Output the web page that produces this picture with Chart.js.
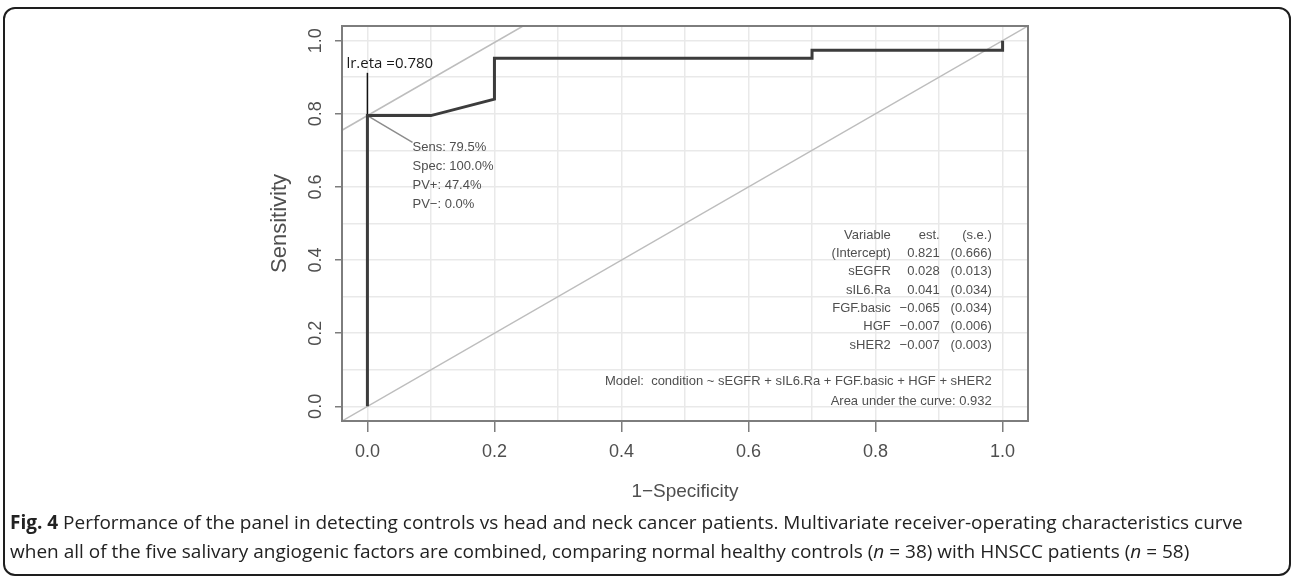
<!DOCTYPE html>
<html>
<head>
<meta charset="utf-8">
<script src="https://cdn.jsdelivr.net/npm/chart.js@4/dist/chart.umd.min.js"></script>
<style>
  html, body { margin: 0; padding: 0; background: #fff; }
  body { width: 1293px; height: 578px; position: relative; overflow: hidden; }
  #frame { position: absolute; left: 3px; top: 7px; width: 1288px; height: 569px; box-sizing: border-box;
           border: 2px solid #1e1e1e; border-radius: 12px; }
  #roc { position: absolute; left: 0; top: 0; }
  #caption { position: absolute; left: 10px; top: 508px; font: 19px "Open Sans", sans-serif; line-height: 29px;
             color: #222; white-space: nowrap; }
</style>
</head>
<body>
<div id="frame"></div>
<canvas id="roc" width="1293" height="510"></canvas>
<div id="caption"><b>Fig. 4</b> Performance of the panel in detecting controls vs head and neck cancer patients. Multivariate receiver-operating characteristics curve<br>when all of the five salivary angiogenic factors are combined, comparing normal healthy controls (<i>n</i> = 38) with HNSCC patients (<i>n</i> = 58)</div>
<script>
// ROC curve
const rocFpr = [0, 0, 0.1, 0.2, 0.2, 0.7, 0.7, 1.0, 1.0]
const rocSens = [0, 0.795, 0.795, 0.84, 0.952, 0.952, 0.974, 0.974, 1.0]

const axisRange = [-0.04, 1.04]
const gridSteps = [0, 0.1, 0.2, 0.3, 0.4, 0.5, 0.6, 0.7, 0.8, 0.9, 1.0]
const tickValues = [0, 0.2, 0.4, 0.6, 0.8, 1.0]
const tickLabels = ["0.0", "0.2", "0.4", "0.6", "0.8", "1.0"]

// optimal cut point
const cutFpr = 0
const cutSens = 0.795
const lrEta = 0.78
const cutStats = ["Sens: 79.5%", "Spec: 100.0%", "PV+: 47.4%", "PV\u2212: 0.0%"]

// logistic model table
const varNames = ["(Intercept)", "sEGFR", "sIL6.Ra", "FGF.basic", "HGF", "sHER2"]
const estimates = [0.821, 0.028, 0.041, -0.065, -0.007, -0.007]
const stdErrors = [0.666, 0.013, 0.034, 0.034, 0.006, 0.003]
const modelText = "Model:  condition ~ sEGFR + sIL6.Ra + FGF.basic + HGF + sHER2"
const auc = 0.932

const fmt = (v) => v.toFixed(3).replace("-", "\u2212")
const pts = (xs, ys) => xs.map((x, i) => ({ x: x, y: ys[i] }))

const tangentX = [axisRange[0], axisRange[1] - cutSens]

const labelFor = (value) => {
  const i = tickValues.findIndex((t) => Math.abs(t - value) < 1e-6)
  return i < 0 ? "" : tickLabels[i]
}
const tickCol = (c) => (c.tick && labelFor(c.tick.value) !== "" ? "#7d7d7d" : "rgba(0,0,0,0)")

const textCol = "#4f4f4f"
const rFont = "Liberation Sans"

// box, stats text and model table
const rocNotes = {
  id: "rocNotes",
  afterDatasetsDraw(chart) {
    const { ctx, chartArea: a, scales } = chart
    const px = (v) => scales.x.getPixelForValue(v)
    const py = (v) => scales.y.getPixelForValue(v)
    ctx.save()
    ctx.strokeStyle = "#7d7d7d"
    ctx.lineWidth = 2
    ctx.strokeRect(a.left, a.top, a.right - a.left, a.bottom - a.top)

    ctx.textBaseline = "middle"
    ctx.fillStyle = "#1a1a1a"
    ctx.font = '15px "Open Sans"'
    ctx.textAlign = "left"
    ctx.fillText("lr.eta =" + lrEta.toFixed(3), px(-0.033), py(0.938))

    ctx.fillStyle = textCol
    ctx.font = "13px " + rFont
    cutStats.forEach((s, i) => ctx.fillText(s, px(0.071), py(0.707) + i * 19))

    ctx.textAlign = "right"
    const rowY = (i) => py(0.468) + i * 18.3
    ctx.fillText("Variable", px(0.824), rowY(0))
    ctx.fillText("est.", px(0.901), rowY(0))
    ctx.fillText("(s.e.)", px(0.983), rowY(0))
    varNames.forEach((n, i) => {
      ctx.fillText(n, px(0.824), rowY(i + 1))
      ctx.fillText(fmt(estimates[i]), px(0.901), rowY(i + 1))
      ctx.fillText("(" + fmt(stdErrors[i]) + ")", px(0.983), rowY(i + 1))
    })
    ctx.fillText(modelText, px(0.983), py(0.068))
    ctx.fillText("Area under the curve: " + auc.toFixed(3), px(0.983), py(0.014))
    ctx.restore()
  },
}

const axis = (title, titleSize, tickLen, extra) => ({
  type: "linear",
  min: axisRange[0],
  max: axisRange[1],
  afterBuildTicks: (s) => {
    s.ticks = gridSteps.map((v) => ({ value: v }))
  },
  ticks: Object.assign(
    { callback: labelFor, autoSkip: false, color: textCol, font: { size: 18, family: rFont } },
    extra
  ),
  grid: { color: "#e9e9e9", lineWidth: 1.5, tickLength: tickLen, tickColor: tickCol, tickWidth: 1.5 },
  border: { display: false },
  title: { display: true, text: title, color: textCol, font: { size: titleSize, family: rFont }, padding: 4 },
})

const line = (data, color, width) => ({
  data: data,
  showLine: true,
  borderColor: color,
  borderWidth: width,
  pointRadius: 0,
  fill: false,
})

new Chart(document.querySelector("#roc"), {
  type: "scatter",
  data: {
    datasets: [
      line(pts(rocFpr, rocSens), "#3c3c3c", 3),
      line(pts([cutFpr, cutFpr], [cutSens, 0.912]), "#111", 1.5),
      line(pts([cutFpr, 0.071], [cutSens, 0.722]), "#8c8c8c", 1.5),
      line(pts(tangentX, tangentX.map((v) => v + cutSens)), "#bdbdbd", 1.5),
      line(pts(axisRange, axisRange), "#bdbdbd", 1.5),
    ],
  },
  options: {
    responsive: false,
    animation: false,
    devicePixelRatio: 1,
    layout: { padding: { left: 263, right: 265, top: 26, bottom: 3 } },
    plugins: { legend: { display: false }, tooltip: { enabled: false } },
    scales: {
      x: Object.assign(axis("1\u2212Specificity", 19, 11, { padding: 9, maxRotation: 0 }), {
        afterFit: (s) => { s.height = 86 },
      }),
      y: Object.assign(axis("Sensitivity", 22, 7, { padding: 6, minRotation: 90, maxRotation: 90, crossAlign: "center" }), {
        afterFit: (s) => { s.width = 79 },
      }),
    },
  },
  plugins: [rocNotes],
})
</script>
</body>
</html>
